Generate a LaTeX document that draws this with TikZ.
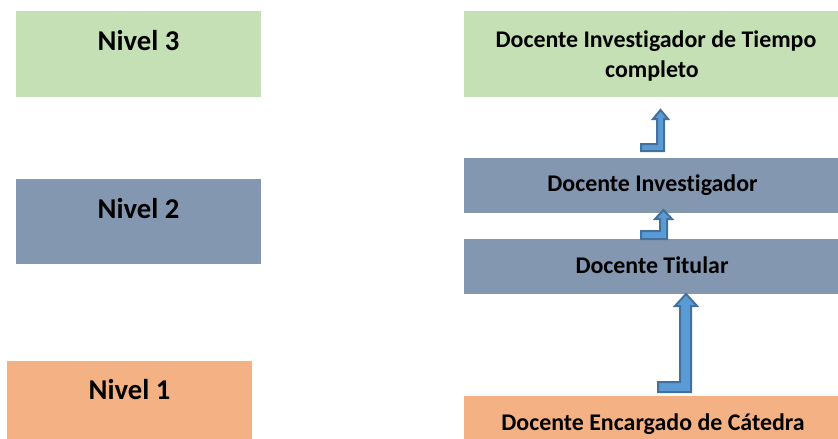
\documentclass[tikz,border=0pt]{standalone}
\usepackage{fontspec}
\setmainfont[Ligatures=NoCommon]{Carlito}
\definecolor{lvgreen}{HTML}{C5E0B4}
\definecolor{lvblue}{HTML}{8497B0}
\definecolor{lvorange}{HTML}{F4B183}
\definecolor{arrfill}{HTML}{5B9BD5}
\definecolor{arrdraw}{HTML}{41719C}
\begin{document}
\begin{tikzpicture}[x=1pt,y=-1pt,
  box/.style={draw=none,inner sep=0pt,outer sep=0pt},
  bigtxt/.style={font=\bfseries\fontsize{28.7}{30}\selectfont,anchor=base,inner sep=0pt},
  smalltxt/.style={font=\bfseries\fontsize{23.9}{30}\selectfont,anchor=base,inner sep=0pt},
  blockarrow/.style={fill=arrfill,draw=arrdraw,line width=2pt,line join=miter}]
\useasboundingbox (0,0) rectangle (838,439);
% left boxes
\fill[lvgreen] (16,11) rectangle (261,97) node[box,midway] (n3) {};
\fill[lvblue] (16,179) rectangle (261,264) node[box,midway] (n2) {};
\fill[lvorange] (7,361) rectangle (252,439) node[box,midway] (n1) {};
\node[bigtxt] (t3) at (138.5,50) {Nivel 3};
\node[bigtxt] (t2) at (138.5,218) {Nivel 2};
\node[bigtxt] (t1) at (129.5,399) {Nivel 1};
% right boxes
\fill[lvgreen] (464,11) rectangle (838,97) node[box,midway] (r4) {};
\fill[lvblue] (464,158) rectangle (838,213) node[box,midway] (r3) {};
\fill[lvblue] (464,239) rectangle (838,294) node[box,midway] (r2) {};
\fill[lvorange] (464,396) rectangle (838,439) node[box,midway] (r1) {};
\node[smalltxt] (s4a) at (656,47) {Docente Investigador de Tiempo};
\node[smalltxt] (s4b) at (652,77) {completo};
\node[smalltxt] (s3) at (652.5,191) {Docente Investigador};
\node[smalltxt] (s2) at (652,273) {Docente Titular};
\node[smalltxt] (s1) at (653,430) {Docente Encargado de Cátedra};
% bent-up arrows
\draw[blockarrow] (641,144) -- (657,144) -- (657,119) -- (653,119) -- (660.5,110) -- (668,119) -- (664,119) -- (664,151) -- (641,151) -- cycle;
\draw[blockarrow] (641,231) -- (660,231) -- (660,219) -- (655,219) -- (663.5,210) -- (672,219) -- (667,219) -- (667,239) -- (641,239) -- cycle;
\draw[blockarrow] (658,382) -- (680,382) -- (680,306) -- (675,306) -- (686,294) -- (697,306) -- (691,306) -- (691,392) -- (658,392) -- cycle;
\end{tikzpicture}
\end{document}
